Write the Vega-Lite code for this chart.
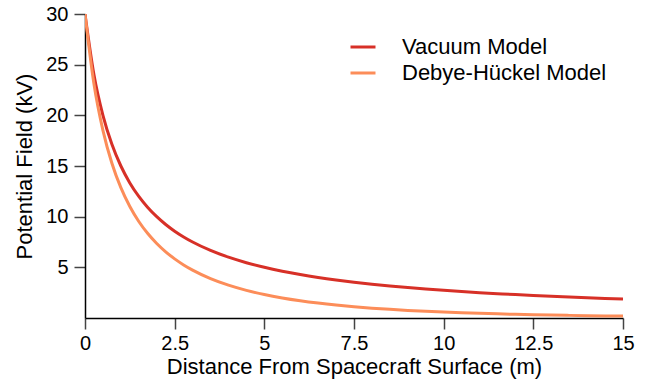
{
  "$schema": "https://vega.github.io/schema/vega-lite/v6.json",
  "width": 538,
  "height": 304,
  "autosize": "none",
  "padding": {"left": 85, "top": 14, "right": 25, "bottom": 66},
  "background": "white",
  "config": {
    "view": {"stroke": null},
    "font": "Liberation Sans",
    "axis": {
      "labelFont": "Liberation Sans",
      "titleFont": "Liberation Sans",
      "labelFontSize": 20,
      "titleFontSize": 22,
      "titleFontWeight": "normal",
      "labelColor": "black",
      "titleColor": "black",
      "domainColor": "black",
      "domainWidth": 1.5,
      "tickColor": "#444",
      "tickWidth": 1.5,
      "tickSize": 11,
      "labelFlush": false,
      "grid": false
    }
  },
  "data": {
    "values": [
      {"d": 0, "Vacuum Model": 30, "Debye-Hückel Model": 30},
      {"d": 0.25, "Vacuum Model": 24, "Debye-Hückel Model": 23.094},
      {"d": 0.5, "Vacuum Model": 20, "Debye-Hückel Model": 18.519},
      {"d": 0.75, "Vacuum Model": 17.143, "Debye-Hückel Model": 15.275},
      {"d": 1, "Vacuum Model": 15, "Debye-Hückel Model": 12.861},
      {"d": 1.25, "Vacuum Model": 13.333, "Debye-Hückel Model": 11.001},
      {"d": 1.5, "Vacuum Model": 12, "Debye-Hückel Model": 9.527},
      {"d": 1.75, "Vacuum Model": 10.909, "Debye-Hückel Model": 8.334},
      {"d": 2, "Vacuum Model": 10, "Debye-Hückel Model": 7.351},
      {"d": 2.25, "Vacuum Model": 9.231, "Debye-Hückel Model": 6.53},
      {"d": 2.5, "Vacuum Model": 8.571, "Debye-Hückel Model": 5.835},
      {"d": 2.75, "Vacuum Model": 8, "Debye-Hückel Model": 5.24},
      {"d": 3, "Vacuum Model": 7.5, "Debye-Hückel Model": 4.727},
      {"d": 3.5, "Vacuum Model": 6.667, "Debye-Hückel Model": 3.891},
      {"d": 4, "Vacuum Model": 6, "Debye-Hückel Model": 3.243},
      {"d": 4.5, "Vacuum Model": 5.455, "Debye-Hückel Model": 2.73},
      {"d": 5, "Vacuum Model": 5, "Debye-Hückel Model": 2.317},
      {"d": 5.5, "Vacuum Model": 4.615, "Debye-Hückel Model": 1.98},
      {"d": 6, "Vacuum Model": 4.286, "Debye-Hückel Model": 1.703},
      {"d": 6.5, "Vacuum Model": 4, "Debye-Hückel Model": 1.472},
      {"d": 7, "Vacuum Model": 3.75, "Debye-Hückel Model": 1.277},
      {"d": 7.5, "Vacuum Model": 3.529, "Debye-Hückel Model": 1.113},
      {"d": 8, "Vacuum Model": 3.333, "Debye-Hückel Model": 0.973},
      {"d": 8.5, "Vacuum Model": 3.158, "Debye-Hückel Model": 0.854},
      {"d": 9, "Vacuum Model": 3, "Debye-Hückel Model": 0.751},
      {"d": 9.5, "Vacuum Model": 2.857, "Debye-Hückel Model": 0.662},
      {"d": 10, "Vacuum Model": 2.727, "Debye-Hückel Model": 0.585},
      {"d": 10.5, "Vacuum Model": 2.609, "Debye-Hückel Model": 0.519},
      {"d": 11, "Vacuum Model": 2.5, "Debye-Hückel Model": 0.46},
      {"d": 11.5, "Vacuum Model": 2.4, "Debye-Hückel Model": 0.409},
      {"d": 12, "Vacuum Model": 2.308, "Debye-Hückel Model": 0.364},
      {"d": 12.5, "Vacuum Model": 2.222, "Debye-Hückel Model": 0.325},
      {"d": 13, "Vacuum Model": 2.143, "Debye-Hückel Model": 0.29},
      {"d": 13.5, "Vacuum Model": 2.069, "Debye-Hückel Model": 0.259},
      {"d": 14, "Vacuum Model": 2, "Debye-Hückel Model": 0.232},
      {"d": 14.5, "Vacuum Model": 1.935, "Debye-Hückel Model": 0.208},
      {"d": 15, "Vacuum Model": 1.875, "Debye-Hückel Model": 0.187}
    ]
  },
  "transform": [
    {"fold": ["Vacuum Model", "Debye-Hückel Model"], "as": ["model", "kv"]}
  ],
  "mark": {"type": "line", "strokeWidth": 3, "interpolate": "monotone", "clip": true},
  "encoding": {
    "x": {
      "field": "d",
      "type": "quantitative",
      "scale": {"domain": [0, 15], "nice": false},
      "axis": {
        "title": "Distance From Spacecraft Surface (m)",
        "values": [0, 2.5, 5, 7.5, 10, 12.5, 15],
        "labelExpr": "datum.value + ''",
        "labelPadding": 4,
        "titlePadding": 3
      }
    },
    "y": {
      "field": "kv",
      "type": "quantitative",
      "scale": {"domain": [0, 30], "nice": false},
      "axis": {
        "title": "Potential Field (kV)",
        "values": [5, 10, 15, 20, 25, 30],
        "labelPadding": 6,
        "titlePadding": 9
      }
    },
    "color": {
      "field": "model",
      "type": "nominal",
      "scale": {
        "domain": ["Vacuum Model", "Debye-Hückel Model"],
        "range": ["#d73027", "#fc8d59"]
      },
      "legend": {
        "title": null,
        "orient": "none",
        "legendX": 264,
        "legendY": 19,
        "symbolType": "stroke",
        "symbolSize": 625,
        "symbolStrokeWidth": 3,
        "labelFont": "Liberation Sans",
        "labelFontSize": 22,
        "labelColor": "black",
        "labelOffset": 25,
        "rowPadding": 1,
        "labelLimit": 400
      }
    }
  }
}
